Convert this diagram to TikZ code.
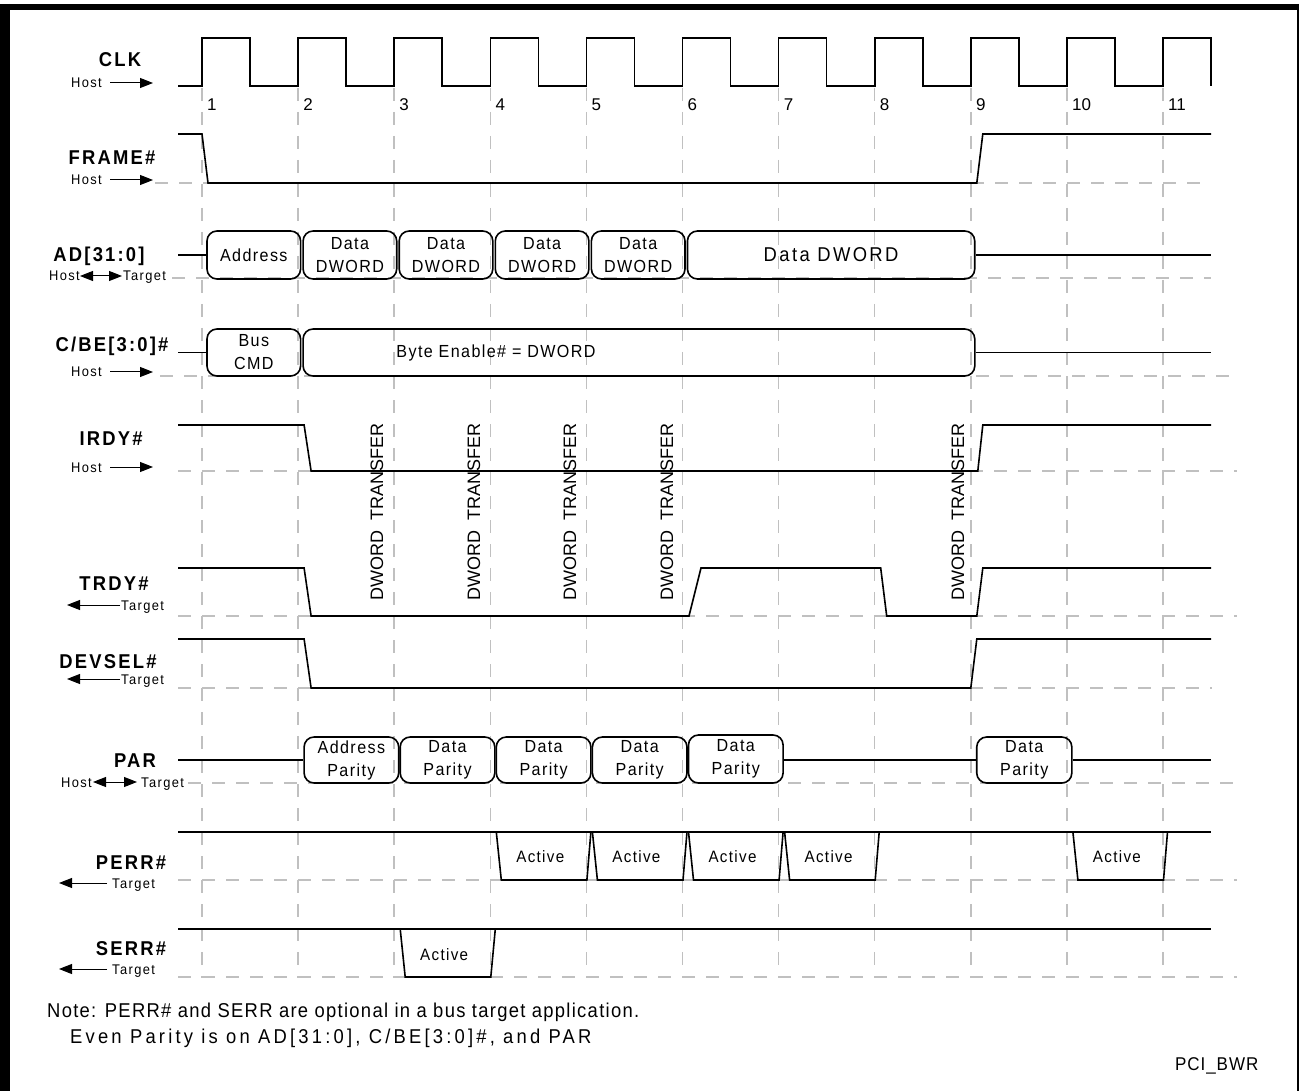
\documentclass[tikz,border=0pt]{standalone}
\usepackage{fontspec}
\setmainfont{Liberation Sans}
\newfontfamily\lblfont{Liberation Sans}[FakeStretch=0.92,LetterSpace=11]
\newfontfamily\smfont{Liberation Sans}[FakeStretch=0.92,LetterSpace=10]
\newfontfamily\bxfont{Liberation Sans}[FakeStretch=0.92,LetterSpace=8]
\newfontfamily\bigbxfont{Liberation Sans}[FakeStretch=0.92,LetterSpace=12]
\newfontfamily\notefont{Liberation Sans}[FakeStretch=0.92,LetterSpace=6.5]
\newfontfamily\noteBfont{Liberation Sans}[FakeStretch=0.92,LetterSpace=16]
\newfontfamily\tagfont{Liberation Sans}[FakeStretch=0.92,LetterSpace=5]
\newfontfamily\plainfont{Liberation Sans}
\usetikzlibrary{arrows.meta}
\pgfmathdeclarefunction{gx}{1}{\pgfmathparse{202+96.1*(#1-1)}}
\definecolor{gridgray}{RGB}{192,192,192}
\tikzset{
  sig/.style={line width=1.6pt},
  gridln/.style={draw=gridgray, line width=1.5pt, dash pattern=on 13pt off 11pt},
  dirarr/.style={line width=1pt, -{Triangle[length=13pt,width=10pt]}},
  bidir/.style={line width=1pt, {Triangle[length=13pt,width=10pt]}-{Triangle[length=13pt,width=10pt]}},
  siglbl/.style={font=\lblfont\bfseries\fontsize{20}{24}\selectfont, inner sep=0pt, anchor=base},
  dirtxt/.style={font=\smfont\fontsize{14}{16}\selectfont, inner sep=0pt},
  busnode/.style={draw, line width=1.6pt, rounded corners=10pt, inner sep=0pt, align=center,
     font=\bxfont\fontsize{17.5}{23}\selectfont},
  boxtxt/.style={font=\bxfont\fontsize{17.5}{23}\selectfont, align=center, inner sep=0pt},
  clknum/.style={font=\plainfont\fontsize{17}{20}\selectfont, inner sep=0pt, anchor=base west},
  xfer/.style={font=\plainfont\fontsize{18}{20}\selectfont, rotate=90, inner sep=0pt},
}
\begin{document}
\begin{tikzpicture}[x=1pt,y=-1pt]
\useasboundingbox (0,0) rectangle (1299,1091);
% frame
\draw[line width=6pt] (0,7) -- (1299,7);
\draw[line width=10pt] (5,4) -- (5,1091);
\draw[line width=2.5pt] (1298,4) -- (1298,1091);

% grid
\foreach \k in {1,...,11} \draw[gridln] ({gx(\k)},88) -- ({gx(\k)},978);
\foreach \ya/\xa/\xb in {183/155/1211, 278/172/1211, 376/160/1237, 471/178/1237, 616/178/1237,
                        688/178/1212, 783/188/1237, 880/178/1237, 977/178/1237}
  \draw[gridln] (\xa,\ya) -- (\xb,\ya);

% ---------------- labels ----------------
\node[siglbl] (lclk) at (120,67) {CLK};
\node[dirtxt, anchor=base east] (hclk) at (102,88) {Host};
\coordinate (hclkt) at (153,83);
\draw[dirarr] (110,83) -- (hclkt);

\node[siglbl] (lframe) at (112,165) {FRAME\#};
\node[dirtxt, anchor=base east] (hframe) at (102,185) {Host};
\coordinate (hframet) at (153,180);
\draw[dirarr] (110,180) -- (hframet);

\node[siglbl] (lad) at (99,262) {AD[31:0]};
\node[dirtxt, anchor=base east] (had) at (80,281) {Host};
\node[dirtxt, anchor=base west] (tad) at (123,281) {Target};
\coordinate (ada) at (80,276); \coordinate (adb) at (122,276);
\draw[bidir] (ada) -- (adb);

\node[siglbl] (lcbe) at (112,352) {C/BE[3:0]\#};
\node[dirtxt, anchor=base east] (hcbe) at (102,377) {Host};
\coordinate (hcbet) at (153,372);
\draw[dirarr] (110,372) -- (hcbet);

\node[siglbl] (lirdy) at (111,445) {IRDY\#};
\node[dirtxt, anchor=base east] (hirdy) at (102,472) {Host};
\coordinate (hirdyt) at (153,467);
\draw[dirarr] (110,467) -- (hirdyt);

\node[siglbl] (ltrdy) at (114,590) {TRDY\#};
\node[dirtxt, anchor=base west] (ttrdy) at (121,610) {Target};
\coordinate (ttrdyt) at (67,605);
\draw[dirarr] (120,605) -- (ttrdyt);

\node[siglbl] (ldev) at (108,668) {DEVSEL\#};
\node[dirtxt, anchor=base west] (tdev) at (121,684) {Target};
\coordinate (tdevt) at (67,679);
\draw[dirarr] (120,679) -- (tdevt);

\node[siglbl] (lpar) at (135,767) {PAR};
\node[dirtxt, anchor=base east] (hpar) at (92,787) {Host};
\node[dirtxt, anchor=base west] (tpar) at (141,787) {Target};
\coordinate (para) at (93,782); \coordinate (parb) at (137,782);
\draw[bidir] (para) -- (parb);

\node[siglbl] (lperr) at (131,869) {PERR\#};
\node[dirtxt, anchor=base west] (tperr) at (112,888) {Target};
\coordinate (tperrt) at (59,883);
\draw[dirarr] (107,883) -- (tperrt);

\node[siglbl] (lserr) at (131,955) {SERR\#};
\node[dirtxt, anchor=base west] (tserr) at (112,974) {Target};
\coordinate (tserrt) at (59,969);
\draw[dirarr] (107,969) -- (tserrt);

% ---------------- CLK ----------------
\draw[sig] (178,86) \foreach \k in {1,...,11}{ -- ({gx(\k)},86) -- ({gx(\k)},38) -- ({gx(\k)+48},38) -- ({gx(\k)+48},86) };
\foreach \k in {1,...,11} \node[clknum] (n\k) at ({gx(\k)+5},111) {\k};

% ---------------- FRAME# ----------------
\draw[sig] (178,134) -- ({gx(1)},134) -- ({gx(1)+6},183) -- ({gx(9)+6},183) -- ({gx(9)+12},134) -- (1211,134);

% ---------------- AD ----------------
\node[busnode, minimum width=93.6, minimum height=48] (ad1) at ({gx(1)+51.8},255) {Address};
\node[busnode, minimum width=93.6, minimum height=48] (ad2) at ({gx(2)+51.8},255) {Data\\DWORD};
\node[busnode, minimum width=93.6, minimum height=48] (ad3) at ({gx(3)+51.8},255) {Data\\DWORD};
\node[busnode, minimum width=93.6, minimum height=48] (ad4) at ({gx(4)+51.8},255) {Data\\DWORD};
\node[busnode, minimum width=93.6, minimum height=48] (ad5) at ({gx(5)+51.8},255) {Data\\DWORD};
\node[busnode, minimum width=287.3, minimum height=48, font=\bigbxfont\fontsize{20}{24}\selectfont] (ad6) at ({gx(6)+148.6},255) {Data DWORD};
\draw[sig] (178,255) -- (ad1.west);
\draw[sig] (ad6.east) -- (1211,255);

% ---------------- C/BE ----------------
\node[busnode, minimum width=93.6, minimum height=47] (cb1) at ({gx(1)+51.8},352.5) {Bus\\CMD};
\node[busnode, minimum width=671.7, minimum height=47] (cb2) at (638.95,352.5) {};
\node[boxtxt] (cbt) at (496,352.5) {Byte Enable\# = DWORD};
\draw[sig] (178,352.5) -- (cb1.west);
\draw[sig] (cb2.east) -- (1211,352.5);

% ---------------- IRDY / TRDY / DEVSEL ----------------
\draw[sig] (178,425) -- ({gx(2)+6},425) -- ({gx(2)+13},471) -- ({gx(9)+7},471) -- ({gx(9)+12},425) -- (1211,425);
\draw[sig] (178,568) -- ({gx(2)+6},568) -- ({gx(2)+13},616) -- ({gx(6)+6.5},616) -- ({gx(6)+18.5},568)
   -- ({gx(8)+6},568) -- ({gx(8)+12},616) -- ({gx(9)+6},616) -- ({gx(9)+12},568) -- (1211,568);
\draw[sig] (178,639) -- ({gx(2)+6},639) -- ({gx(2)+13},688) -- ({gx(9)},688) -- ({gx(9)+6},639) -- (1211,639);

\node[xfer] (x3) at (377,512) {DWORD\ \ TRANSFER};
\node[xfer] (x4) at (474,512) {DWORD\ \ TRANSFER};
\node[xfer] (x5) at (570,512) {DWORD\ \ TRANSFER};
\node[xfer] (x6) at (667,512) {DWORD\ \ TRANSFER};
\node[xfer] (x9) at (958,512) {DWORD\ \ TRANSFER};

% ---------------- PAR ----------------
\node[busnode, minimum width=94.6, minimum height=46] (p2) at ({gx(2)+53.3},760) {Address\\Parity};
\node[busnode, minimum width=94.6, minimum height=46] (p3) at ({gx(3)+53.3},760) {Data\\Parity};
\node[busnode, minimum width=94.6, minimum height=46] (p4) at ({gx(4)+53.3},760) {Data\\Parity};
\node[busnode, minimum width=94.6, minimum height=46] (p5) at ({gx(5)+53.3},760) {Data\\Parity};
\node[busnode, minimum width=94.6, minimum height=48] (p6) at ({gx(6)+53.3},759) {Data\\Parity};
\node[busnode, minimum width=95.1, minimum height=46] (p9) at ({gx(9)+53.5},760) {Data\\Parity};
\draw[sig] (178,760) -- (p2.west);
\draw[sig] (p6.east |- 0,760) -- (p9.west);
\draw[sig] (p9.east) -- (1211,760);

% ---------------- PERR# ----------------
\draw[sig] (178,832) -- (1211,832);
\foreach \k in {4,5,6,7,10}{
  \draw[sig] ({gx(\k)+6},832) -- ({gx(\k)+11},880) -- ({gx(\k+1)+0.5},880) -- ({gx(\k+1)+4.5},832);
  \node[boxtxt, font=\bxfont\fontsize{16.5}{20}\selectfont] (pe\k) at ({gx(\k)+50},857) {Active};
}

% ---------------- SERR# ----------------
\draw[sig] (178,929) -- (1211,929);
\draw[sig] ({gx(3)+6},929) -- ({gx(3)+11},977) -- ({gx(4)+0.5},977) -- ({gx(4)+5},929);
\node[boxtxt, font=\bxfont\fontsize{16.5}{20}\selectfont] (se3) at ({gx(3)+50},955) {Active};

% ---------------- notes ----------------
\node[font=\notefont\fontsize{20}{24}\selectfont, inner sep=0pt, anchor=base west] (note1) at (47,1017)
  {Note: PERR\# and SERR are optional in a bus target application.};
\node[font=\noteBfont\fontsize{20}{24}\selectfont, inner sep=0pt, anchor=base west] (note2) at (70,1043)
  {Even Parity is on AD[31:0], C/BE[3:0]\#, and PAR};
\node[font=\tagfont\fontsize{18.5}{22}\selectfont, inner sep=0pt, anchor=base west] (tag) at (1175,1070) {PCI\_BWR};
\end{tikzpicture}
\end{document}
